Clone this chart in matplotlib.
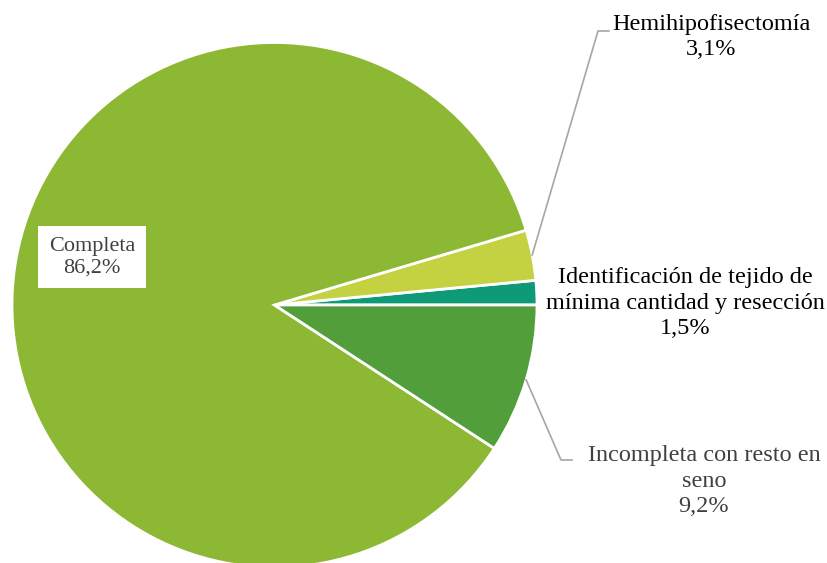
import numpy as np
import matplotlib.pyplot as plt

plt.rcParams['font.family'] = ['Liberation Serif', 'DejaVu Serif']

# slices, counter-clockwise from 3 o'clock
labels = ['Identificación de tejido de\nmínima cantidad y resección',
          'Hemihipofisectomía',
          'Completa',
          'Incompleta con resto en\nseno']
values = [1.5, 3.1, 86.2, 9.2]
colors = ['#0F9A77', '#C4D140', '#8CB833', '#519E3A']

W, H = 827, 563
cx, cy, R = 274.5, 305, 262.5   # pie centre / radius in pixels


def px(x, y):
    # pixel (from top-left) -> data coords
    return (x - cx) / R, (cy - y) / R


fig = plt.figure(figsize=(W / 100, H / 100), dpi=100)
ax = fig.add_axes([0, 0, 1, 1])
wedges, _ = ax.pie(values, colors=colors, startangle=0, counterclock=True,
                   wedgeprops=dict(edgecolor='white', linewidth=2))
ax.set_xlim(-cx / R, (W - cx) / R)
ax.set_ylim(-(H - cy) / R, cy / R)
ax.set_aspect('auto')
ax.axis('off')

fs = 17.5
pct = lambda v: f'{v:.1f}%'.replace('.', ',')

# mid-angles of each wedge
angles = []
start = 0
for v in values:
    angles.append(start + v * 3.6 / 2)
    start += v * 3.6

# Hemihipofisectomía with leader line
a = np.deg2rad(angles[1])
x0, y0 = np.cos(a), np.sin(a)
ex, ey = px(598, 31)
hx, _ = px(609, 31)
ax.plot([x0, ex, hx], [y0, ey, ey], color='#A6A6A6', lw=1.2)
tx, ty = px(711, 37)
ax.text(tx, ty, f'{labels[1]}\n{pct(values[1])}', ha='center', va='center',
        fontsize=fs, color='black', linespacing=1.2)

# Identificación (no leader)
tx, ty = px(685, 303)
ax.text(tx, ty, f'{labels[0]}\n{pct(values[0])}', ha='center', va='center',
        fontsize=fs, color='black', linespacing=1.27)

# Incompleta with leader line
a = np.deg2rad(angles[3])
x0, y0 = np.cos(a), np.sin(a)
ex, ey = px(561, 460)
hx, _ = px(572, 460)
ax.plot([x0, ex, hx], [y0, ey, ey], color='#A6A6A6', lw=1.2)
tx, ty = px(704, 481)
ax.text(tx, ty, f'{labels[3]}\n{pct(values[3])}', ha='center', va='center',
        fontsize=fs, color='#404040', linespacing=1.3)

# Completa inside the pie, white box
tx, ty = px(92, 257)
ax.text(tx, ty, f'{labels[2]}\n{pct(values[2])}', ha='center', va='center',
        fontsize=16, color='#404040', linespacing=1.15,
        bbox=dict(boxstyle='square,pad=0.5', facecolor='white', edgecolor='none'))

fig.savefig('out.png', dpi=100)
